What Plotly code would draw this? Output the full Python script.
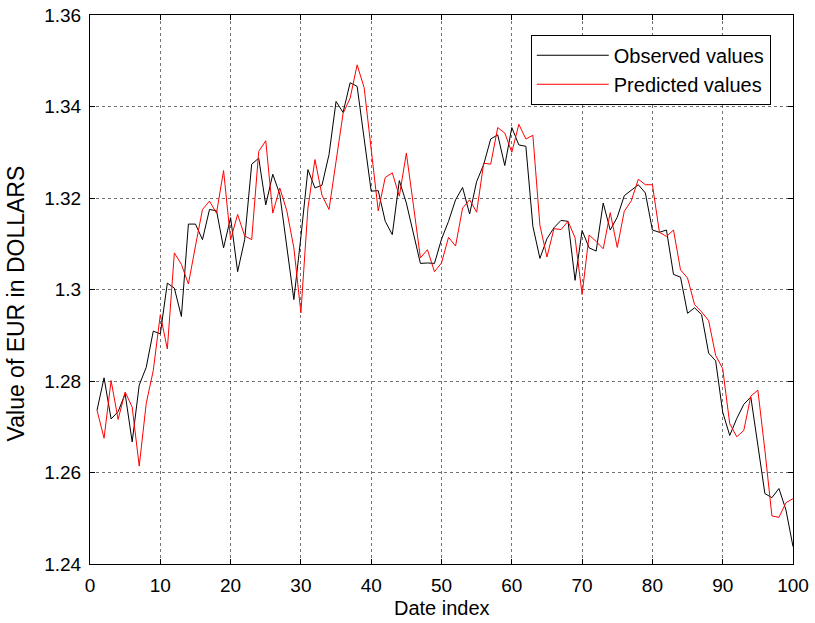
import plotly.graph_objects as go

date_index = list(range(1, 101))

observed = [
    1.2736, 1.2807, 1.2717, 1.2733, 1.2772, 1.2667, 1.2791, 1.2830, 1.2909, 1.2903,
    1.3014, 1.3003, 1.2941, 1.3143, 1.3143, 1.3109, 1.3175, 1.3172, 1.3091, 1.3157,
    1.3039, 1.3109, 1.3274, 1.3287, 1.3185, 1.3252, 1.3208, 1.3098, 1.2978, 1.3115,
    1.3262, 1.3222, 1.3228, 1.3295, 1.3411, 1.3387, 1.3452, 1.3444, 1.3327, 1.3215,
    1.3216, 1.3149, 1.3120, 1.3238, 1.3189, 1.3125, 1.3057, 1.3058, 1.3057, 1.3110,
    1.3149, 1.3196, 1.3223, 1.3165, 1.3236, 1.3273, 1.3329, 1.3338, 1.3271, 1.3354,
    1.3316, 1.3313, 1.3138, 1.3068, 1.3111, 1.3135, 1.3151, 1.3149, 1.3020, 1.3129,
    1.3091, 1.3084, 1.3189, 1.3130, 1.3158, 1.3205, 1.3216, 1.3229, 1.3211, 1.3130,
    1.3125, 1.3130, 1.3033, 1.3027, 1.2948, 1.2960, 1.2945, 1.2861, 1.2844, 1.2732,
    1.2681, 1.2718, 1.2749, 1.2765, 1.2660, 1.2554, 1.2545, 1.2565, 1.2518, 1.2438,
]

predicted = [
    1.2736, 1.2675, 1.2801, 1.2716, 1.2776, 1.2743, 1.2614, 1.2751, 1.2823, 1.2945,
    1.2870, 1.3080, 1.3055, 1.3012, 1.3095, 1.3175, 1.3193, 1.3167, 1.3260, 1.3109,
    1.3164, 1.3117, 1.3109, 1.3302, 1.3325, 1.3167, 1.3222, 1.3172, 1.3091, 1.2949,
    1.3178, 1.3284, 1.3206, 1.3175, 1.3280, 1.3385, 1.3418, 1.3491, 1.3441, 1.3309,
    1.3172, 1.3245, 1.3255, 1.3204, 1.3298, 1.3185, 1.3069, 1.3087, 1.3039, 1.3058,
    1.3114, 1.3095, 1.3178, 1.3196, 1.3169, 1.3276, 1.3274, 1.3354, 1.3342, 1.3300,
    1.3361, 1.3329, 1.3337, 1.3140, 1.3071, 1.3133, 1.3131, 1.3149, 1.3113, 1.2989,
    1.3119, 1.3105, 1.3089, 1.3168, 1.3092, 1.3171, 1.3194, 1.3241, 1.3229, 1.3229,
    1.3125, 1.3116, 1.3130, 1.3043, 1.3025, 1.2967, 1.2951, 1.2932, 1.2856, 1.2827,
    1.2707, 1.2678, 1.2692, 1.2767, 1.2780, 1.2649, 1.2505, 1.2502, 1.2534, 1.2543,
]

x_ticks = [0, 10, 20, 30, 40, 50, 60, 70, 80, 90, 100]
y_ticks = [1.24, 1.26, 1.28, 1.30, 1.32, 1.34, 1.36]
y_tick_labels = ["1.24", "1.26", "1.28", "1.3", "1.32", "1.34", "1.36"]

FONT = "Arial, Liberation Sans, sans-serif"

fig = go.Figure()
fig.add_trace(go.Scatter(x=date_index, y=observed, mode="lines", name="Observed values",
                         line=dict(color="black", width=1)))
fig.add_trace(go.Scatter(x=date_index, y=predicted, mode="lines", name="Predicted values",
                         line=dict(color="red", width=1)))

axis_common = dict(
    showline=True, linecolor="black", linewidth=1, mirror="ticks",
    ticks="inside", ticklen=5, tickcolor="black",
    showgrid=True, gridcolor="rgba(0,0,0,0.55)", gridwidth=1, griddash="dot",
    zeroline=False, automargin=False,
    tickfont=dict(family=FONT, size=19, color="black"),
)

fig.update_xaxes(range=[0, 100], tickvals=x_ticks, ticklabelstandoff=4, **axis_common)
fig.update_yaxes(range=[1.24, 1.36], tickvals=y_ticks, ticktext=y_tick_labels,
                 ticklabelstandoff=4, **axis_common)

fig.update_layout(
    width=815, height=623,
    margin=dict(l=90, r=22, t=15, b=59),
    paper_bgcolor="white", plot_bgcolor="white",
    font=dict(family=FONT, size=19, color="black"),
    legend=dict(x=0.627, y=0.964, xanchor="left", yanchor="top",
                bordercolor="black", borderwidth=1, bgcolor="white",
                font=dict(family=FONT, size=20, color="black"),
                itemwidth=72, tracegroupgap=0),
    showlegend=True,
    annotations=[
        dict(text="Date index", xref="paper", yref="paper", x=0.5, y=-0.057,
             xanchor="center", yanchor="top", showarrow=False,
             font=dict(family=FONT, size=20, color="black")),
        dict(text="Value of EUR in DOLLARS", xref="paper", yref="paper",
             x=-0.105, y=0.475, xanchor="center", yanchor="middle", textangle=-90,
             showarrow=False, font=dict(family=FONT, size=23, color="black")),
    ],
)

fig.write_html("out.html", config={"displayModeBar": False},
               post_script="document.body.style.margin='0';document.body.style.overflow='hidden';")
